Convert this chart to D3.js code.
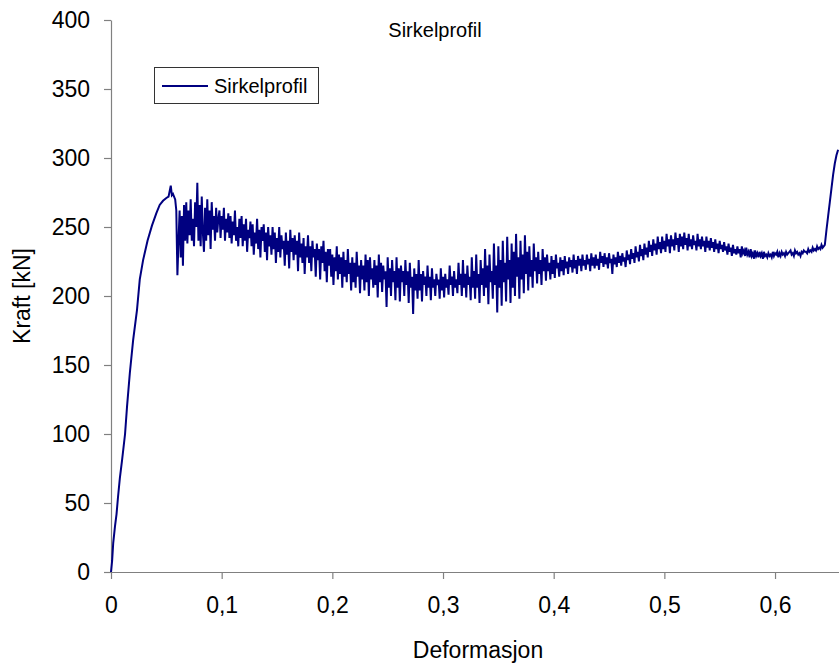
<!DOCTYPE html>
<html>
<head>
<meta charset="utf-8">
<script src="https://cdn.jsdelivr.net/npm/d3@7"></script>
<style>
  body { margin: 0; background: #fff; }
  text { font-family: Arial, "Liberation Sans", sans-serif; fill: #000; }
</style>
</head>
<body>
<div id="chart"></div>
<script>
// loading phase, read point by point
var riseDef = [0, 0.001, 0.002, 0.0036, 0.005, 0.0063, 0.008, 0.01, 0.0127, 0.0145, 0.017, 0.02,
  0.0235, 0.026, 0.029, 0.033, 0.037, 0.041, 0.044, 0.047, 0.05, 0.052, 0.054, 0.055, 0.056];
var riseForce = [0, 8, 21, 33, 42, 54, 68, 81, 100, 120, 144, 168,
  190, 212, 226, 240, 251, 260, 266, 269, 271, 272, 280, 273, 274];

// noisy part, one sample every 0.001 starting at 0.058 (one row = 0.01)
var noiseStart = 0.058;
var noiseStep = 0.001;
var noiseForce = [
  270, 262, 215, 240, 262, 228, 258, 222, 266, 240,
  268, 238, 262, 244, 270, 240, 256, 236, 268, 250,
  282, 240, 266, 236, 272, 246, 232, 264, 240, 270,
  244, 262, 234, 268, 248, 258, 240, 264, 246, 256,
  262, 242, 258, 248, 264, 240, 256, 246, 260, 242,
  258, 238, 254, 244, 262, 240, 250, 236, 256, 242,
  258, 236, 252, 240, 256, 232, 248, 242, 254, 236,
  252, 230, 246, 238, 256, 234, 248, 228, 250, 240,
  252, 232, 246, 226, 250, 236, 244, 230, 250, 234,
  246, 224, 242, 232, 250, 228, 244, 234, 240, 222,
  246, 230, 240, 220, 248, 232, 242, 226, 244, 230,
  240, 218, 246, 228, 238, 224, 242, 216, 236, 228,
  244, 224, 236, 218, 240, 228, 234, 214, 238, 226,
  234, 212, 236, 224, 240, 218, 232, 210, 234, 222,
  234, 214, 230, 208, 228, 218, 236, 212, 230, 216,
  228, 206, 232, 214, 226, 210, 234, 216, 224, 204,
  228, 210, 224, 206, 232, 214, 222, 202, 226, 212,
  222, 204, 230, 210, 226, 200, 228, 212, 220, 206,
  226, 208, 222, 199, 230, 210, 224, 203, 222, 212,
  218, 192, 228, 206, 220, 200, 226, 210, 218, 197,
  228, 206, 220, 196, 222, 210, 218, 200, 226, 208,
  218, 195, 224, 206, 214, 187, 220, 204, 216, 198,
  226, 204, 216, 196, 218, 208, 214, 200, 222, 206,
  214, 197, 220, 206, 212, 200, 216, 208, 212, 198,
  220, 204, 214, 199, 216, 206, 212, 201, 222, 208,
  214, 200, 218, 206, 212, 202, 224, 208, 216, 200,
  226, 206, 216, 199, 222, 208, 214, 197, 228, 206,
  218, 198, 230, 206, 216, 195, 226, 208, 220, 200,
  234, 206, 222, 194, 230, 210, 218, 198, 238, 208,
  222, 188, 236, 206, 226, 193, 240, 210, 224, 196,
  243, 212, 226, 195, 238, 206, 232, 200, 245, 214,
  228, 198, 240, 212, 230, 202, 244, 216, 232, 204,
  236, 214, 226, 206, 238, 218, 228, 209, 232, 216,
  226, 208, 234, 218, 228, 211, 230, 218, 224, 212,
  229, 216, 226, 213, 230, 220, 224, 214, 228, 218,
  226, 215, 229, 220, 225, 216, 228, 221, 226, 217,
  230, 220, 226, 216, 229, 222, 227, 218, 230, 222,
  226, 219, 230, 223, 227, 218, 231, 222, 228, 220,
  230, 222, 227, 219, 232, 224, 229, 221, 231, 223,
  228, 220, 231, 224, 227, 216, 230, 223, 228, 221,
  232, 224, 229, 222, 231, 225, 228, 221, 233, 226,
  230, 223, 234, 227, 231, 224, 236, 228, 232, 225,
  237, 229, 234, 226, 238, 230, 235, 228, 240, 232,
  237, 229, 241, 233, 238, 230, 243, 234, 239, 231,
  243, 234, 240, 232, 245, 236, 241, 231, 244, 236,
  241, 233, 246, 237, 242, 232, 245, 236, 243, 234,
  246, 237, 242, 233, 245, 236, 241, 234, 244, 237,
  240, 233, 245, 236, 241, 234, 243, 236, 240, 232,
  243, 235, 240, 233, 242, 235, 239, 232, 241, 234,
  238, 231, 240, 234, 237, 232, 239, 233, 236, 230,
  238, 232, 235, 229, 237, 231, 234, 230, 236, 231,
  234, 228, 236, 231, 233, 229, 235, 230, 232, 228,
  234, 229, 231, 227, 233, 229, 231, 228, 232, 229,
  231, 227, 232, 229, 230, 228, 231, 229, 230, 228,
  232, 229, 231, 230, 232, 228, 231, 229, 232, 230,
  231, 229, 232, 230, 231, 232, 233, 230, 231, 229,
  233, 231, 232, 230, 231, 229, 232, 231, 233, 232,
  232, 231, 234, 232, 233, 232, 235, 233, 234, 233,
  236, 234, 235, 234, 237, 235, 236, 237
];

// final hardening at the end
var endDef = [0.6465, 0.648, 0.6495, 0.651, 0.6525, 0.654, 0.6555, 0.657];
var endForce = [248, 258, 268, 278, 288, 296, 302, 306];

var xTicks = [0, 0.1, 0.2, 0.3, 0.4, 0.5, 0.6];
var yTicks = [0, 50, 100, 150, 200, 250, 300, 350, 400];

var width = 839;
var height = 668;
var margin = { top: 20, right: 0, bottom: 96, left: 111 };

var data = [];
riseDef.forEach(function(d, i) { data.push({ x: d, y: riseForce[i] }); });
noiseForce.forEach(function(v, i) { data.push({ x: noiseStart + i * noiseStep, y: v }); });
endDef.forEach(function(d, i) { data.push({ x: d, y: endForce[i] }); });

var svg = d3.select("#chart").append("svg")
  .attr("width", width)
  .attr("height", height);

var x = d3.scaleLinear()
  .domain([0, 0.6578])
  .range([margin.left, width - margin.right]);

var y = d3.scaleLinear()
  .domain([0, 400])
  .range([height - margin.bottom, margin.top]);

var comma = d3.formatLocale({ decimal: ",", thousands: " ", grouping: [3], currency: ["", ""] }).format("~g");

var xAxis = d3.axisBottom(x)
  .tickValues(xTicks)
  .tickFormat(comma)
  .tickSize(7)
  .tickSizeOuter(0)
  .tickPadding(18);

var yAxis = d3.axisLeft(y)
  .tickValues(yTicks)
  .tickSize(7)
  .tickSizeOuter(0)
  .tickPadding(14);

var gx = svg.append("g")
  .attr("transform", "translate(0," + y(0) + ")")
  .call(xAxis);

var gy = svg.append("g")
  .attr("transform", "translate(" + x(0) + ",0)")
  .call(yAxis);

[gx, gy].forEach(function(g) {
  g.selectAll("path, line").attr("stroke", "#808080").attr("stroke-width", 1.2);
  g.selectAll("text").style("font-size", "23px").attr("fill", "#000");
});

var line = d3.line()
  .x(function(d) { return x(d.x); })
  .y(function(d) { return y(d.y); });

svg.append("path")
  .datum(data)
  .attr("fill", "none")
  .attr("stroke", "#000080")
  .attr("stroke-width", 2)
  .attr("stroke-linejoin", "miter")
  .attr("d", line);

svg.append("text")
  .attr("x", 435)
  .attr("y", 37)
  .attr("text-anchor", "middle")
  .style("font-size", "20px")
  .text("Sirkelprofil");

svg.append("text")
  .attr("transform", "translate(30," + ((margin.top + height - margin.bottom) / 2) + ") rotate(-90)")
  .attr("text-anchor", "middle")
  .style("font-size", "23px")
  .text("Kraft [kN]");

svg.append("text")
  .attr("x", 478)
  .attr("y", 658)
  .attr("text-anchor", "middle")
  .style("font-size", "23px")
  .text("Deformasjon");

// legend
var legend = svg.append("g");
legend.append("rect")
  .attr("x", 154.5).attr("y", 67.5)
  .attr("width", 164).attr("height", 36)
  .attr("fill", "#fff")
  .attr("stroke", "#333");
legend.append("line")
  .attr("x1", 162).attr("x2", 208)
  .attr("y1", 86).attr("y2", 86)
  .attr("stroke", "#000080")
  .attr("stroke-width", 2);
legend.append("text")
  .attr("x", 214).attr("y", 93)
  .style("font-size", "20px")
  .text("Sirkelprofil");
</script>
</body>
</html>
